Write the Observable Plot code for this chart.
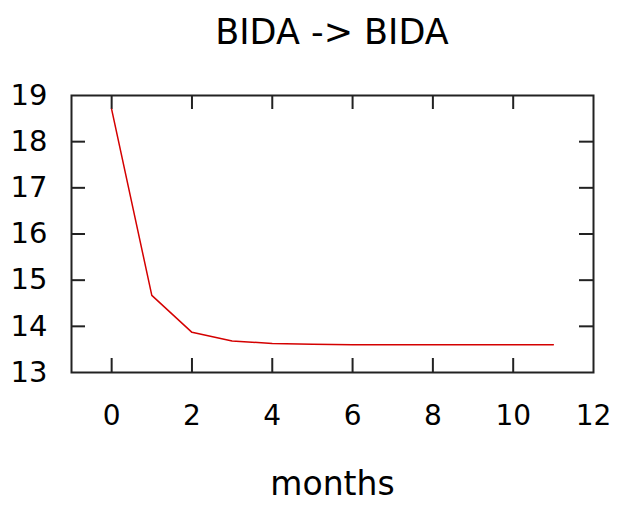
<!DOCTYPE html>
<html><head><meta charset="utf-8">
<script src="https://cdn.jsdelivr.net/npm/d3@7"></script>
<script src="https://cdn.jsdelivr.net/npm/@observablehq/plot@0.6"></script>
<style>
body{margin:0;background:#fff;font-family:"DejaVu Sans",Verdana,sans-serif;}
#title{height:65px;line-height:64px;padding-left:40px;text-align:center;font-size:35px;color:#000;}
</style></head><body>
<div id="title">BIDA -&gt; BIDA</div>
<div id="chart"></div>
<script>
const months = [0,1,2,3,4,5,6,7,8,9,10,11];
const values = [18.7,14.67,13.87,13.68,13.63,13.61,13.6,13.6,13.6,13.6,13.6,13.6];
const xTicks = [0,2,4,6,8,10,12];
const yTicks = [13,14,15,16,17,18,19];
const xLabel = "months";
const data = months.map((m,i)=>({month:m, value:values[i]}));
const innerX = xTicks.filter(t=>t>-1&&t<12);
const innerY = yTicks.filter(t=>t>13&&t<19);
const W=624,H=440,ML=71,MR=31,MT=30,MB=133;
const fw=W-ML-MR, fh=H-MT-MB, tl=14;
const chart = Plot.plot({
  width:W, height:H,
  marginLeft:ML, marginRight:MR, marginTop:MT, marginBottom:MB,
  style:{fontFamily:'"DejaVu Sans", sans-serif', color:"#000", background:"#fff"},
  x:{domain:[-1,12]},
  y:{domain:[13,19]},
  marks:[
    Plot.axisX({ticks:xTicks,tickSize:0,tickPadding:33,fontSize:28,label:null,tickFormat:d=>String(d)}),
    Plot.axisY({ticks:yTicks,tickSize:0,tickPadding:24,fontSize:29,label:null,tickFormat:d=>String(d)}),
    Plot.tickX(innerX,{x:d=>d,insetTop:fh-tl,stroke:"#222",strokeWidth:2}),
    Plot.tickX(innerX,{x:d=>d,insetBottom:fh-tl,stroke:"#222",strokeWidth:2}),
    Plot.tickY(innerY,{y:d=>d,insetRight:fw-tl,stroke:"#222",strokeWidth:2}),
    Plot.tickY(innerY,{y:d=>d,insetLeft:fw-tl,stroke:"#222",strokeWidth:2}),
    Plot.line(data,{x:"month",y:"value",stroke:"#d40000",strokeWidth:1.5}),
    Plot.frame({stroke:"#222",strokeWidth:2}),
    Plot.text([xLabel],{frameAnchor:"bottom",text:d=>d,dy:122,fontSize:33,fill:"#000"})
  ]
});
document.getElementById("chart").appendChild(chart);
</script></body></html>
